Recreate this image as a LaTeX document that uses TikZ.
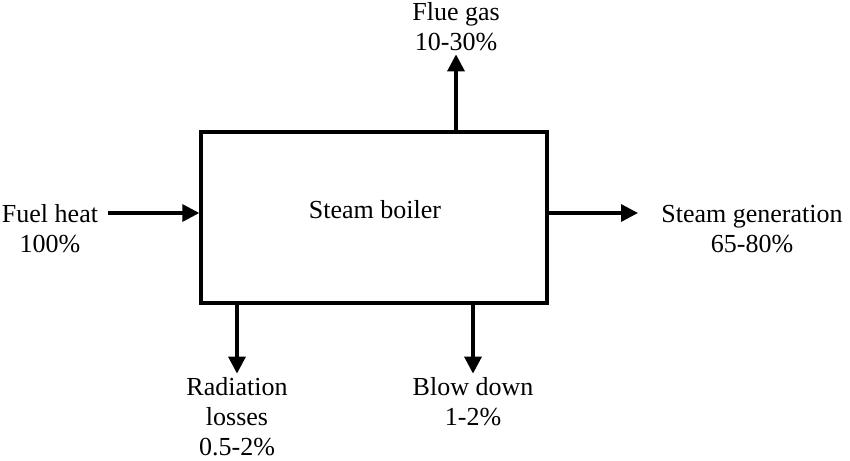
\documentclass[tikz,border=0pt]{standalone}
\usepackage{fontspec}
\setmainfont{Liberation Serif}
\usetikzlibrary{arrows.meta, positioning, calc}

\begin{document}
\begin{tikzpicture}[
    x=1pt, y=-1pt,
    label/.style={align=center, inner sep=0pt, font=\fontsize{26}{30}\selectfont},
    unit/.style={rectangle, draw=black, line width=3.4pt, minimum width=346pt, minimum height=171pt, inner sep=0pt},
    flow/.style={-{Triangle[length=17pt, width=17pt]}, line width=3.4pt, black}
]
    \useasboundingbox (0,0) rectangle (850,460);

    % Boiler box
    \node[unit] (boiler) at (374,217.5) {};
    \node[label] (boilertxt) at (375,210) {Steam boiler};

    % In- and outflows
    \node[label] (fuel) at (50,229) {Fuel heat\\100\%};
    \node[label] (flue) at (456,27) {Flue gas\\10-30\%};
    \node[label] (steam) at (752,229) {Steam generation\\65-80\%};
    \node[label] (radiation) at (237,417) {Radiation\\losses\\0.5-2\%};
    \node[label] (blowdown) at (473,402) {Blow down\\1-2\%};

    \coordinate (fuelin) at (108,213);
    \coordinate (steamout) at (638,213);

    % Connections
    \draw[flow] (fuelin) -- (fuelin -| boiler.west);
    \draw[flow] (steamout -| boiler.east) -- (steamout);
    \draw[flow] (flue.south |- boiler.north) -- ($(flue.south)+(0,3)$);
    \draw[flow] (radiation.north |- boiler.south) -- ($(radiation.north)+(0,-4)$);
    \draw[flow] (blowdown.north |- boiler.south) -- ($(blowdown.north)+(0,-4)$);
\end{tikzpicture}
\end{document}
